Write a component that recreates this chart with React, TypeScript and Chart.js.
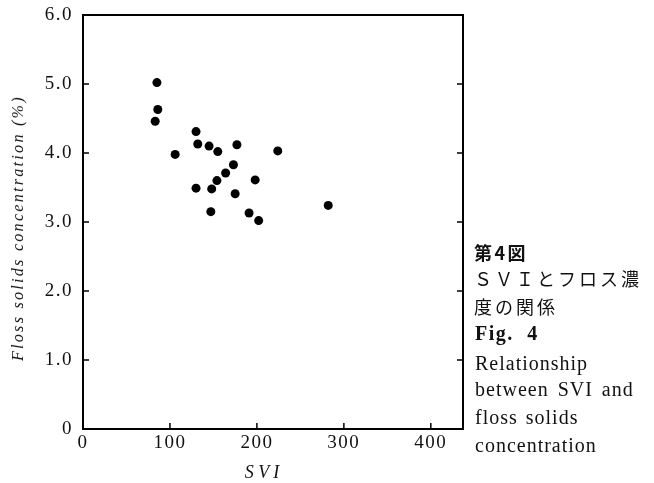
import React, { useEffect, useRef } from "react";
import { Chart, registerables } from "chart.js";

Chart.register(...registerables);

// SVI values (x) and floss solids concentration in % (y)
const sviValues = [85, 86, 83, 106, 130, 132, 145, 155, 177, 224, 173, 164, 154, 130, 148, 175, 198, 147, 191, 202, 282];
const concValues = [5.02, 4.63, 4.46, 3.98, 4.31, 4.13, 4.1, 4.02, 4.12, 4.03, 3.83, 3.71, 3.6, 3.49, 3.48, 3.41, 3.61, 3.15, 3.13, 3.02, 3.24];

const xTickValues = [0, 100, 200, 300, 400];
const yTickValues = [0, 1, 2, 3, 4, 5, 6];

const xTitle = "S V I";
const yTitle = "Floss solids concentration (%)";
const captionJa = ["第4図", "ＳＶＩとフロス濃", "度の関係"];
const captionEnHead = "Fig. 4";
const captionEn = ["Relationship", "between SVI and", "floss solids", "concentration"];

const SERIF = "'Liberation Serif', 'DejaVu Serif', serif";
const JA = "'Noto Sans CJK JP', sans-serif";

const spacingPlugin = {
  id: "tickSpacing",
  beforeLayout(chart: any) {
    chart.ctx.letterSpacing = "1.5px";
  },
  beforeDraw(chart: any) {
    chart.ctx.letterSpacing = "1.5px";
  },
};

const framePlugin = {
  id: "frameTicks",
  afterDraw(chart: any) {
    const { ctx, chartArea, scales } = chart;
    const { left, right, top, bottom } = chartArea;
    ctx.save();
    ctx.strokeStyle = "#000";
    ctx.lineWidth = 2;
    ctx.strokeRect(left, top, right - left, bottom - top);
    ctx.lineWidth = 1.5;
    ctx.beginPath();
    scales.y.ticks.forEach((t: any) => {
      const py = scales.y.getPixelForValue(t.value);
      ctx.moveTo(left, py);
      ctx.lineTo(left + 6, py);
      ctx.moveTo(right, py);
      ctx.lineTo(right - 6, py);
    });
    scales.x.ticks.forEach((t: any) => {
      const px = scales.x.getPixelForValue(t.value);
      ctx.moveTo(px, bottom);
      ctx.lineTo(px, bottom - 6);
    });
    ctx.stroke();
    ctx.restore();
  },
};

export default function App() {
  const ref = useRef<HTMLCanvasElement | null>(null);

  useEffect(() => {
    if (!ref.current) return;
    const chart = new Chart(ref.current, {
      type: "scatter",
      data: {
        datasets: [
          {
            data: sviValues.map((v, i) => ({ x: v, y: concValues[i] })),
            backgroundColor: "#000",
            borderColor: "#000",
            borderWidth: 0,
            pointRadius: 4.5,
            pointHoverRadius: 4.5,
          },
        ],
      },
      options: {
        responsive: false,
        animation: false,
        events: [],
        layout: { padding: { left: 0, top: 15, right: 191, bottom: 0 } },
        plugins: { legend: { display: false }, tooltip: { enabled: false } },
        scales: {
          x: {
            type: "linear",
            min: 0,
            max: 437,
            afterBuildTicks: (s: any) => {
              s.ticks = xTickValues.map((v) => ({ value: v }));
            },
            afterFit: (s: any) => {
              s.height = 54;
              s.paddingLeft = 0;
              s.paddingRight = 0;
            },
            grid: { display: false, drawTicks: false },
            border: { display: false },
            ticks: {
              padding: 3,
              color: "#111",
              font: { family: SERIF, size: 19 },
              callback: (v: any) => String(v),
            },
          },
          y: {
            type: "linear",
            min: 0,
            max: 6,
            afterBuildTicks: (s: any) => {
              s.ticks = yTickValues.map((v) => ({ value: v }));
            },
            afterFit: (s: any) => {
              s.width = 83;
              s.paddingTop = 0;
              s.paddingBottom = 0;
            },
            grid: { display: false, drawTicks: false },
            border: { display: false },
            ticks: {
              padding: 10,
              color: "#111",
              font: { family: SERIF, size: 19 },
              callback: (v: any) => (v === 0 ? "0" : Number(v).toFixed(1)),
            },
          },
        },
      },
      plugins: [spacingPlugin, framePlugin],
    });
    return () => chart.destroy();
  }, []);

  const jaTops = [240, 266, 294];
  const enTops = [351, 377, 405, 433];
  const enWordSpacing = [0, 3, 2, 0];

  return (
    <div style={{ position: "absolute", left: 0, top: 0, width: 654, height: 483, background: "#fff", overflow: "hidden" }}>
      <canvas ref={ref} width={654} height={483} style={{ position: "absolute", left: 0, top: 0, width: 654, height: 483 }} />
      <div
        style={{
          position: "absolute",
          left: 18,
          top: 228,
          transform: "translate(-50%, -50%) rotate(-90deg)",
          whiteSpace: "nowrap",
          fontFamily: SERIF,
          fontStyle: "italic",
          fontSize: 16,
          letterSpacing: 2.3,
          color: "#111",
        }}
      >
        {yTitle}
      </div>
      <div
        style={{
          position: "absolute",
          left: 262,
          top: 472,
          transform: "translate(-50%, -50%)",
          whiteSpace: "pre",
          fontFamily: SERIF,
          fontStyle: "italic",
          fontSize: 18,
          color: "#111",
        }}
      >
        {xTitle}
      </div>
      {captionJa.map((t, i) => (
        <div
          key={"ja" + i}
          style={{
            position: "absolute",
            left: 474,
            top: jaTops[i],
            fontFamily: JA,
            fontWeight: i === 0 ? 700 : 400,
            fontSize: 18,
            lineHeight: "24px",
            letterSpacing: i === 0 ? 2.5 : 3,
            whiteSpace: "nowrap",
            color: "#111",
          }}
        >
          {t}
        </div>
      ))}
      <div
        style={{
          position: "absolute",
          left: 475,
          top: 321,
          fontFamily: SERIF,
          fontWeight: 700,
          fontSize: 20,
          lineHeight: "24px",
          letterSpacing: 1.5,
          wordSpacing: 7,
          whiteSpace: "nowrap",
          color: "#111",
        }}
      >
        {captionEnHead}
      </div>
      {captionEn.map((t, i) => (
        <div
          key={"en" + i}
          style={{
            position: "absolute",
            left: 475,
            top: enTops[i],
            fontFamily: SERIF,
            fontSize: 20,
            lineHeight: "24px",
            letterSpacing: 1,
            wordSpacing: enWordSpacing[i],
            whiteSpace: "nowrap",
            color: "#111",
          }}
        >
          {t}
        </div>
      ))}
    </div>
  );
}
